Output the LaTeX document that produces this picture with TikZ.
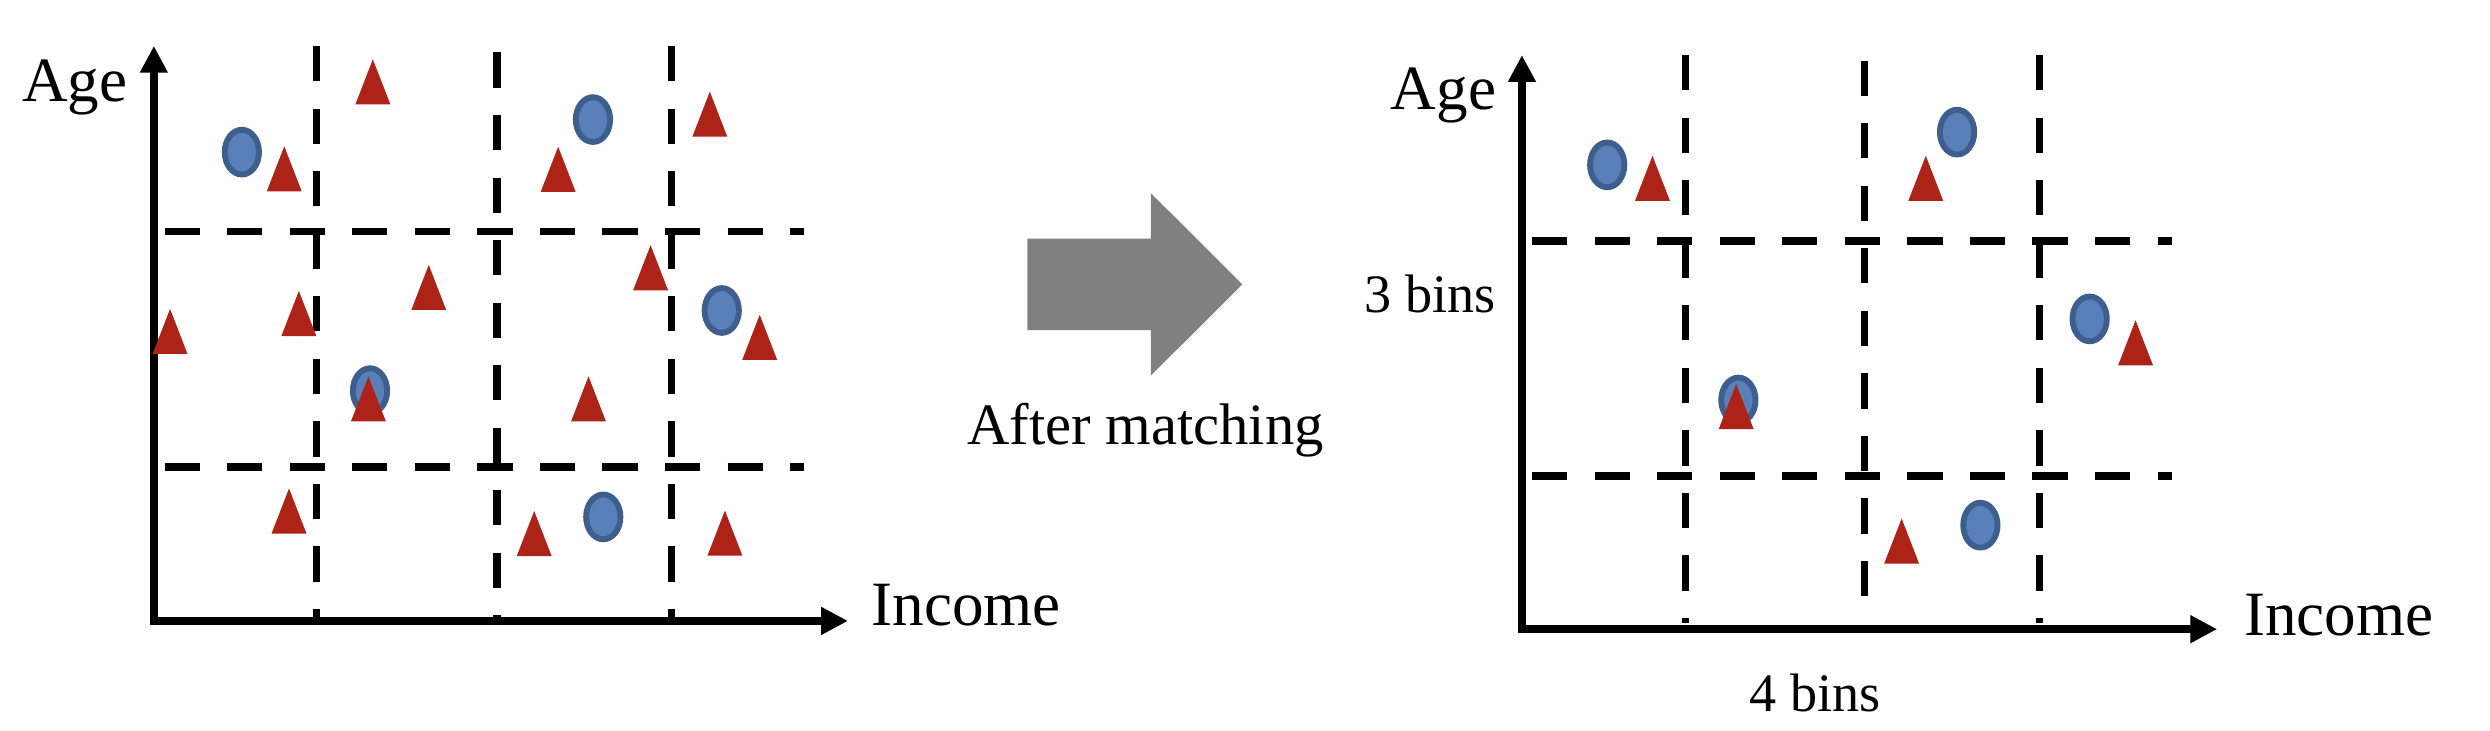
\documentclass[tikz,border=0pt]{standalone}
\usepackage{fontspec}
\setmainfont{Liberation Serif}
\usetikzlibrary{arrows.meta}

\definecolor{dotblue}{RGB}{90,128,185}
\definecolor{dotedge}{RGB}{62,95,142}
\definecolor{trired}{RGB}{173,35,23}

\begin{document}
\begin{tikzpicture}[x=0.01cm, y=-0.01cm,
    axis/.style={line width=1.4pt, {Triangle[width=4.7pt,length=4.8pt]}-{Triangle[width=4.7pt,length=4.8pt]}},
    binline/.style={line width=1.3pt, dash pattern=on 6.3pt off 4.9pt},
    dot/.style={fill=dotblue, draw=dotedge, line width=1.05pt},
    tri/.style={fill=trired},
    big/.style={anchor=base, font=\fontsize{11.3}{13}\selectfont},
    small/.style={anchor=base, font=\fontsize{9.7}{11}\selectfont}]
\useasboundingbox (0,0) rectangle (1568,460);

% Draw the frame before matching
\coordinate (O1) at (96.9,391);
\coordinate (Y1) at (96.9,28.9);
\coordinate (X1) at (534,391);
\draw[axis] (Y1) -- (O1) -- (X1);
\node[big] (age1) at (47,63.8) {Age};
\node[big] (inc1) at (608.5,394) {Income};
\draw[binline] (199.5,29) -- (199.5,390);
\draw[binline] (313,33) -- (313,390);
\draw[binline] (423,29) -- (423,390);
\draw[binline] (103.7,146) -- (506.5,146);
\draw[binline] (103.7,294) -- (506.5,294);

% units before matching
\foreach \x/\y in {152.3/95.8, 373.4/75.3, 454.5/195.5, 233/246, 379.9/325.5}
  \filldraw[dot] (\x,\y) ellipse [x radius=10.8, y radius=14.1];
\foreach \x/\y in {234.8/51.5, 179/106.3, 351.5/106.6, 447/71.9, 107.1/208.7,
                   188.2/197.4, 270/181, 409.7/168.6, 478.4/212.4, 232/251.2,
                   370.6/251.2, 182/321.8, 336.4/336, 456.5/335.7}
  \fill[tri] (\x,\y) ++(-11,14.2) -- ++(22,0) -- ++(-11,-28.4) -- cycle;

% the block arrow
\fill[gray] (646.9,150.3) -- (724.8,150.3) -- (724.8,121.7) -- (782.3,179.1)
  -- (724.8,236.4) -- (724.8,207.8) -- (646.9,207.8) -- cycle;
\node[anchor=base, font=\fontsize{10.5}{12}\selectfont] (after) at (721.4,280.2) {After matching};

% Draw the frame after matching
\coordinate (O2) at (958.4,396.2);
\coordinate (Y2) at (958.4,34.7);
\coordinate (X2) at (1396.2,396.2);
\draw[axis] (Y2) -- (O2) -- (X2);
\node[big] (age2) at (909,69.1) {Age};
\node[big] (inc2) at (1472.8,400.4) {Income};
\node[small] (rows) at (900.5,196.9) {3 bins};
\node[small] (cols) at (1143,448.2) {4 bins};
\draw[binline] (1061.2,34.7) -- (1061.2,392);
\draw[binline] (1174.1,38.2) -- (1174.1,392);
\draw[binline] (1284.2,34.7) -- (1284.2,392);
\draw[binline] (964.8,151.7) -- (1367.8,151.7);
\draw[binline] (964.8,299.8) -- (1367.8,299.8);

% units kept after matching
\foreach \x/\y in {1012.1/103.8, 1232.4/83.2, 1315.9/200.8, 1094.7/251.9, 1247.1/330.7}
  \filldraw[dot] (\x,\y) ellipse [x radius=10.8, y radius=14.1];
\foreach \x/\y in {1040.6/112.3, 1212.7/112.3, 1344.8/215.9, 1093.3/256, 1197.5/340.7}
  \fill[tri] (\x,\y) ++(-11,14.2) -- ++(22,0) -- ++(-11,-28.4) -- cycle;
\end{tikzpicture}
\end{document}
